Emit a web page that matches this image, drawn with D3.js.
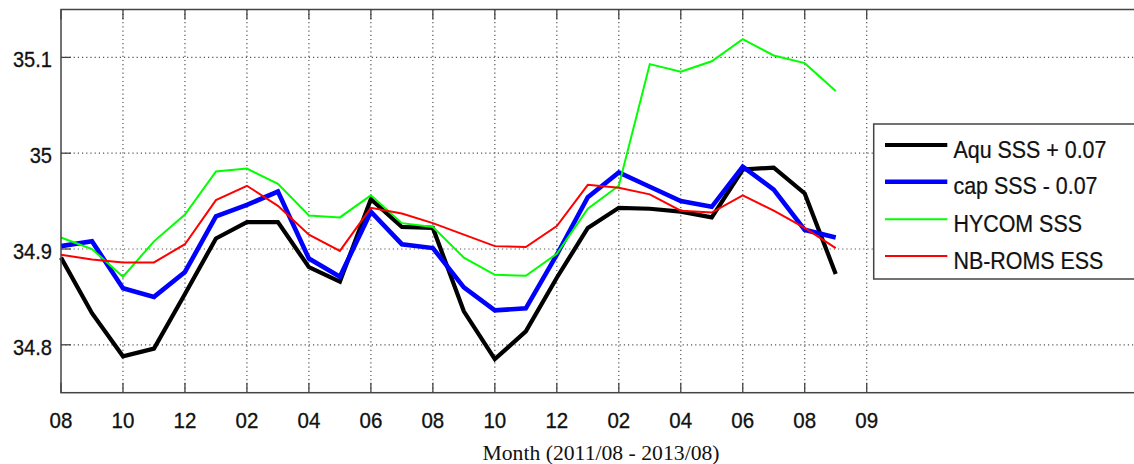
<!DOCTYPE html>
<html>
<head>
<meta charset="utf-8">
<script src="https://cdn.jsdelivr.net/npm/d3@7"></script>
<style>
  html, body { margin: 0; padding: 0; background: #fff; }
  svg { display: block; }
</style>
</head>
<body>
<svg id="chart" width="1134" height="464"></svg>
<script>
// Monthly sea-surface salinity, 2011/08 onward (26 months)
const monthIndex = d3.range(26);

const aquSSS   = [34.891, 34.833, 34.788, 34.796, 34.853, 34.911, 34.928, 34.928, 34.881, 34.866,
                  34.952, 34.923, 34.922, 34.835, 34.785, 34.814, 34.870, 34.922, 34.943, 34.942,
                  34.939, 34.933, 34.983, 34.985, 34.958, 34.874];
const capSSS   = [34.903, 34.908, 34.859, 34.850, 34.876, 34.934, 34.946, 34.960, 34.890, 34.871,
                  34.939, 34.905, 34.901, 34.860, 34.836, 34.838, 34.894, 34.954, 34.980, 34.965,
                  34.950, 34.944, 34.986, 34.962, 34.920, 34.912];
const hycomSSS = [34.912, 34.900, 34.871, 34.908, 34.936, 34.981, 34.984, 34.968, 34.935, 34.933,
                  34.956, 34.927, 34.923, 34.891, 34.873, 34.872, 34.895, 34.942, 34.966, 35.093,
                  35.085, 35.096, 35.119, 35.102, 35.094, 35.065];
const romsESS  = [34.894, 34.889, 34.886, 34.886, 34.905, 34.951, 34.966, 34.945, 34.915, 34.898,
                  34.943, 34.937, 34.927, 34.915, 34.903, 34.902, 34.924, 34.967, 34.964, 34.957,
                  34.940, 34.938, 34.956, 34.940, 34.922, 34.901];

const xTickIdx    = [0, 2, 4, 6, 8, 10, 12, 14, 16, 18, 20, 22, 24, 26];
const xTickLabels = ["08", "10", "12", "02", "04", "06", "08", "10", "12", "02", "04", "06", "08", "09"];
const yTicks      = [34.8, 34.9, 35.0, 35.1];
const yTickLabels = ["34.8", "34.9", "35", "35.1"];

const series = [
  { name: "Aqu SSS + 0.07", values: aquSSS,   color: "#000000", width: 4.2 },
  { name: "cap SSS - 0.07", values: capSSS,   color: "#0000ff", width: 4.6 },
  { name: "HYCOM SSS",      values: hycomSSS, color: "#00ff00", width: 2 },
  { name: "NB-ROMS ESS",    values: romsESS,  color: "#ff0000", width: 2 }
];

const svg = d3.select("#chart");
const plotL = 61, plotT = 9.5, plotB = 392.7, plotR = 1141;

const x = d3.scaleLinear().domain([0, 26]).range([plotL, 866.7]);
const y = d3.scaleLinear().domain([34.75, 35.15]).range([plotB, plotT]);

const frameColor = "#444";
const gridColor = "#555";
const tickLen = 10;

// dotted grid
const grid = svg.append("g");
grid.selectAll("line.vg").data(xTickIdx.slice(1)).join("line")
  .attr("x1", d => x(d)).attr("x2", d => x(d))
  .attr("y1", plotT).attr("y2", plotB)
  .attr("stroke", gridColor).attr("stroke-width", 1.2)
  .attr("stroke-dasharray", "1.2,3");
grid.selectAll("line.hg").data(yTicks).join("line")
  .attr("x1", plotL).attr("x2", plotR)
  .attr("y1", d => y(d)).attr("y2", d => y(d))
  .attr("stroke", gridColor).attr("stroke-width", 1.2)
  .attr("stroke-dasharray", "1.2,3");

// inward tick marks
const ticks = svg.append("g").attr("stroke", frameColor).attr("stroke-width", 1.3);
xTickIdx.forEach(t => {
  ticks.append("line").attr("x1", x(t)).attr("x2", x(t)).attr("y1", plotB).attr("y2", plotB - tickLen);
  ticks.append("line").attr("x1", x(t)).attr("x2", x(t)).attr("y1", plotT).attr("y2", plotT + tickLen);
});
yTicks.forEach(t => {
  ticks.append("line").attr("x1", plotL).attr("x2", plotL + tickLen).attr("y1", y(t)).attr("y2", y(t));
});

// data lines
const line = d3.line().x((d, i) => x(monthIndex[i])).y(d => y(d));
svg.append("g").selectAll("path").data(series).join("path")
  .attr("d", s => line(s.values))
  .attr("fill", "none")
  .attr("stroke", s => s.color)
  .attr("stroke-width", s => s.width)
  .attr("stroke-linejoin", "miter")
  .attr("stroke-linecap", "butt");

// frame
svg.append("rect")
  .attr("x", plotL).attr("y", plotT)
  .attr("width", plotR - plotL).attr("height", plotB - plotT)
  .attr("fill", "none").attr("stroke", frameColor).attr("stroke-width", 1.5);

// tick labels (slightly narrowed sans glyphs)
const labelFont = "'Liberation Sans', Arial, sans-serif";
svg.append("g").selectAll("text").data(xTickIdx).join("text")
  .attr("transform", d => `translate(${x(d)},428.3) scale(0.95,1)`)
  .attr("text-anchor", "middle")
  .attr("font-family", labelFont).attr("font-size", 21.6)
  .attr("fill", "#111").attr("stroke", "#111").attr("stroke-width", 0.3)
  .text((d, i) => xTickLabels[i]);
svg.append("g").selectAll("text").data(yTicks).join("text")
  .attr("transform", d => `translate(52,${y(d) + 10}) scale(0.93,1)`)
  .attr("text-anchor", "end")
  .attr("font-family", labelFont).attr("font-size", 21.6)
  .attr("fill", "#111").attr("stroke", "#111").attr("stroke-width", 0.3)
  .text((d, i) => yTickLabels[i]);

// axis title
svg.append("text")
  .attr("x", 601).attr("y", 459.5)
  .attr("text-anchor", "middle")
  .attr("font-family", "'Liberation Serif', 'Times New Roman', serif")
  .attr("font-size", 21.7)
  .attr("fill", "#111")
  .text("Month (2011/08 - 2013/08)");

// legend
const lg = svg.append("g");
lg.append("rect")
  .attr("x", 873.7).attr("y", 124)
  .attr("width", 300).attr("height", 155)
  .attr("fill", "#fff").attr("stroke", frameColor).attr("stroke-width", 1.5);
const rowY = [145, 181.7, 219.3, 256];
series.forEach((s, i) => {
  lg.append("line")
    .attr("x1", 885).attr("x2", 947.3)
    .attr("y1", rowY[i]).attr("y2", rowY[i])
    .attr("stroke", s.color).attr("stroke-width", s.width);
  lg.append("text")
    .attr("transform", `translate(953.5,${rowY[i] + 12.5}) scale(0.9,1)`)
    .attr("font-family", labelFont).attr("font-size", 23.8)
    .attr("fill", "#111").attr("stroke", "#111").attr("stroke-width", 0.25)
    .text(s.name);
});
</script>
</body>
</html>
